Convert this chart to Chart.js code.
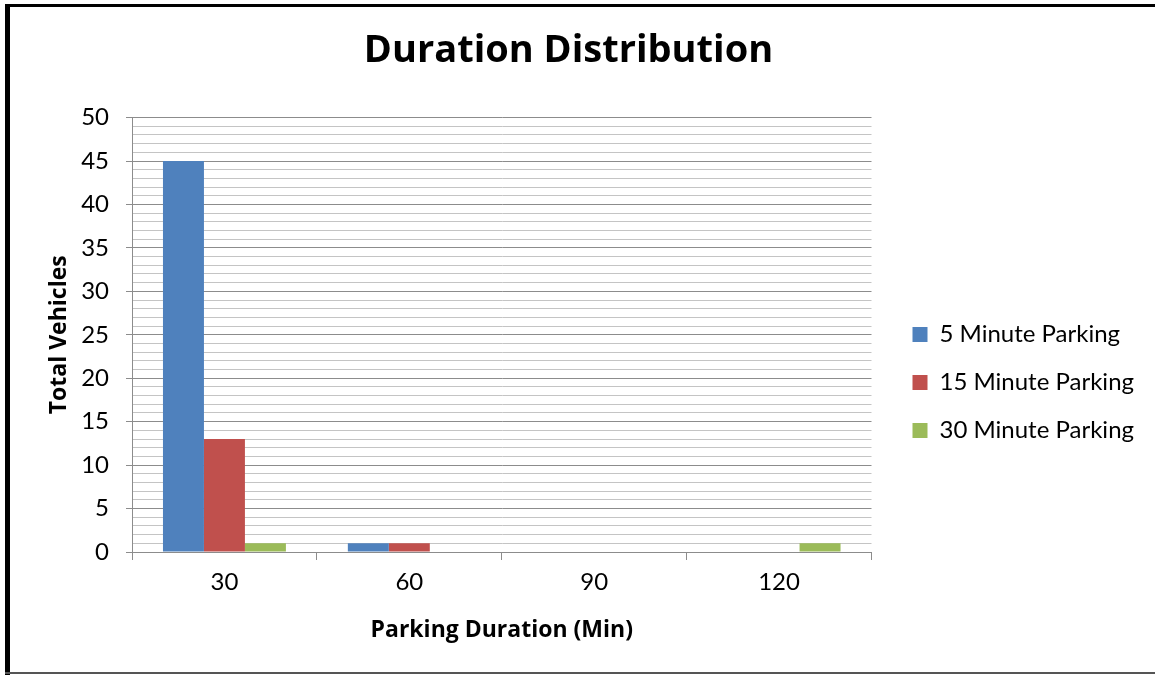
<!DOCTYPE html>
<html>
<head>
<meta charset="utf-8">
<title>Duration Distribution</title>
<script src="https://cdn.jsdelivr.net/npm/chart.js@4/dist/chart.umd.min.js"></script>
<style>
    html, body { margin: 0; padding: 0; background: #fff; }
    #wrap { width: 1155px; height: 675px; position: relative; }
</style>
</head>
<body>
<div id="wrap"><canvas id="durationChart"></canvas></div>
<script>
// Parking duration buckets (minutes) and vehicle counts per parking type
const categories = ['30', '60', '90', '120'];
const fiveMinuteParking = [45, 1, 0, 0];
const fifteenMinuteParking = [13, 1, 0, 0];
const thirtyMinuteParking = [1, 0, 0, 1];
const yMax = 50;
const yMajorStep = 5;

const FONT = 'Lato, "Open Sans", sans-serif';
const BOLD_FONT = '"Open Sans", Lato, sans-serif';
const MAJOR_GRID = '#8c8c8c';
const MINOR_GRID = '#c4c4c4';

// Frame around the whole chart
const framePlugin = {
    id: 'frame',
    afterDraw(chart) {
        const c = chart.ctx;
        c.save();
        c.fillStyle = '#000';
        c.fillRect(5, 4, 5, 671);
        c.fillRect(5, 4, 1150, 3);
        c.fillStyle = '#555';
        c.fillRect(5, 672, 1150, 2);
        c.restore();
    }
};

// Push the legend a little away from the plot and down
const legendNudge = { x: 17, y: 55 };
const legendShiftPlugin = {
    id: 'legendShift',
    afterLayout(chart) {
        const lg = chart.legend;
        if (!lg) return;
        lg.left += legendNudge.x;
        lg.right += legendNudge.x;
        lg.top += legendNudge.y;
        lg.bottom += legendNudge.y;
    }
};

function createDurationChart() {
    const ctx = document.getElementById('durationChart').getContext('2d');
    return new Chart(ctx, {
        type: 'bar',
        data: {
            labels: categories,
            datasets: [{
                label: '5 Minute Parking',
                data: fiveMinuteParking,
                backgroundColor: '#4f81bd'
            }, {
                label: '15 Minute Parking',
                data: fifteenMinuteParking,
                backgroundColor: '#c0504d'
            }, {
                label: '30 Minute Parking',
                data: thirtyMinuteParking,
                backgroundColor: '#9bbb59'
            }]
        },
        options: {
            responsive: true,
            maintainAspectRatio: false,
            animation: false,
            layout: { padding: { left: 10, right: 28, top: 8, bottom: 28 } },
            datasets: {
                bar: { categoryPercentage: 0.665, barPercentage: 1.0 }
            },
            plugins: {
                title: {
                    display: true,
                    text: 'Duration Distribution',
                    color: '#000',
                    font: { family: BOLD_FONT, size: 38, weight: 'bold' },
                    padding: { top: 20, bottom: 44 }
                },
                legend: {
                    position: 'right',
                    align: 'center',
                    labels: {
                        color: '#000',
                        font: { family: FONT, size: 24 },
                        boxWidth: 15,
                        boxHeight: 15,
                        padding: 24
                    }
                },
                tooltip: { enabled: false }
            },
            scales: {
                x: {
                    grid: {
                        offset: true,
                        drawOnChartArea: false,
                        color: MAJOR_GRID,
                        tickLength: 8
                    },
                    border: { color: MAJOR_GRID },
                    ticks: {
                        color: '#000',
                        font: { family: FONT, size: 24 },
                        padding: 8
                    },
                    title: {
                        display: true,
                        text: 'Parking Duration (Min)',
                        color: '#000',
                        font: { family: BOLD_FONT, size: 23, weight: 'bold' },
                        padding: { top: 4, bottom: 3 }
                    },
                    afterFit(scale) { scale.height = 95; }
                },
                y: {
                    min: 0,
                    max: yMax,
                    grid: {
                        color: c => (c.tick && c.tick.value % yMajorStep === 0) ? MAJOR_GRID : MINOR_GRID,
                        tickColor: c => (c.tick && c.tick.value % yMajorStep === 0) ? MAJOR_GRID : 'rgba(0,0,0,0)',
                        tickLength: 6
                    },
                    border: { color: MAJOR_GRID },
                    ticks: {
                        stepSize: 1,
                        autoSkip: false,
                        color: '#000',
                        font: { family: FONT, size: 24 },
                        padding: 17,
                        callback: v => (v % yMajorStep === 0 ? v : '')
                    },
                    title: {
                        display: true,
                        text: 'Total Vehicles',
                        color: '#000',
                        font: { family: BOLD_FONT, size: 23, weight: 'bold' },
                        padding: { top: 36, bottom: 4 }
                    },
                    afterFit(scale) { scale.width = 122; }
                }
            }
        },
        plugins: [framePlugin, legendShiftPlugin]
    });
}

createDurationChart();
</script>
</body>
</html>
